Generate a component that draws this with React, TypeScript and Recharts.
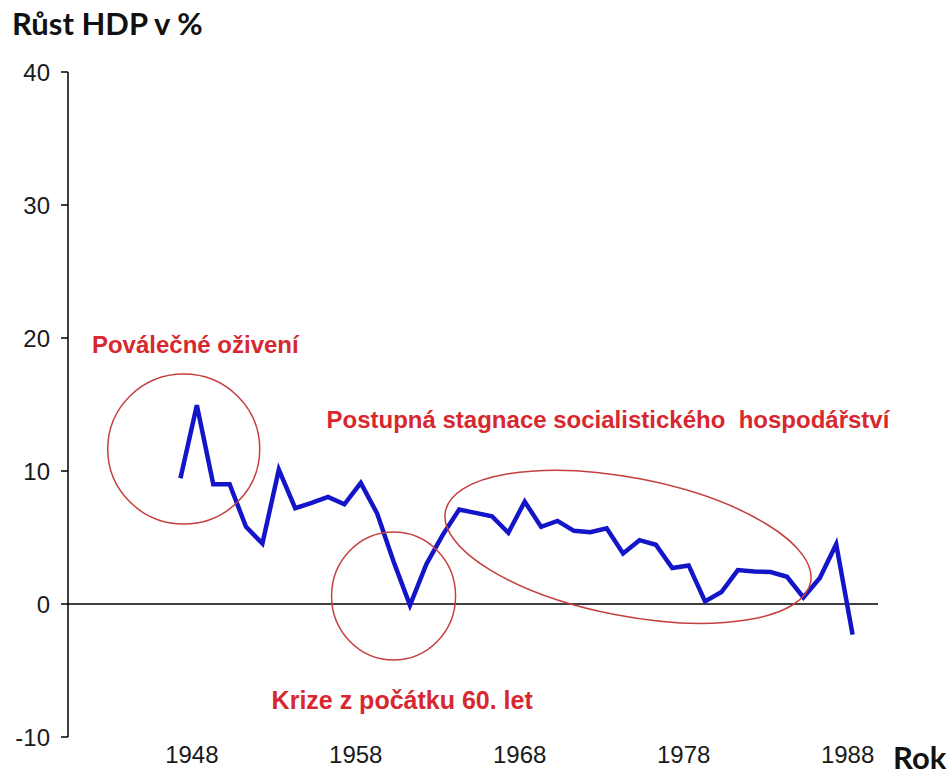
import React from 'react';
import { LineChart, Line, XAxis, YAxis, ReferenceLine, ReferenceDot } from 'recharts';

const years = [1947, 1948, 1949, 1950, 1951, 1952, 1953, 1954, 1955, 1956, 1957, 1958, 1959, 1960, 1961, 1962, 1963, 1964, 1965, 1966, 1967, 1968, 1969, 1970, 1971, 1972, 1973, 1974, 1975, 1976, 1977, 1978, 1979, 1980, 1981, 1982, 1983, 1984, 1985, 1986, 1987, 1988];
const growth = [9.45, 14.95, 9.0, 9.0, 5.8, 4.55, 10.1, 7.2, 7.6, 8.05, 7.5, 9.1, 6.8, 3.2, -0.1, 3.0, 5.2, 7.1, 6.85, 6.6, 5.35, 7.7, 5.8, 6.25, 5.5, 5.4, 5.7, 3.8, 4.8, 4.45, 2.7, 2.9, 0.2, 0.9, 2.55, 2.45, 2.4, 2.05, 0.5, 1.95, 4.5, -2.3];
const xTicks = [1948, 1958, 1968, 1978, 1988];
const yTicks = [-10, 0, 10, 20, 30, 40];

const ellipses = [
  { year: 1947.2, value: 11.65, rx: 76, ry: 75, angle: 0 },
  { year: 1960.0, value: 0.6, rx: 62, ry: 64, angle: 0 },
  { year: 1974.3, value: 4.3, rx: 186, ry: 69, angle: 11 },
];
const notes = [
  { year: 1941.6, value: 18.87, text: 'Poválečné oživení', size: 24 },
  { year: 1955.91, value: 13.23, text: 'Postupná stagnace socialistického  hospodářství', size: 24 },
  { year: 1952.56, value: -7.89, text: 'Krize z počátku 60. let', size: 25 },
];

const data = years.map((y, i) => ({ year: y, g: growth[i] }));
const FONT = '"Liberation Sans", Arial, sans-serif';
const RED = '#d7282f';

const XTick = (props: any) => {
  const { x, y, payload } = props;
  return (
    <text x={x - 5} y={y + 1} dy="0.71em" textAnchor="middle" fontSize={24} fill="#1a1a1a" fontFamily={FONT}>
      {payload.value}
    </text>
  );
};

export default function App() {
  return (
    <div style={{ position: 'absolute', left: 0, top: 0, width: 950, height: 776, background: '#fff' }}>
      <div style={{ position: 'absolute', left: 12, top: 4, fontFamily: 'Lato, sans-serif', fontWeight: 700, fontSize: 31, color: '#111', whiteSpace: 'nowrap' }}>
        Růst HDP v %
      </div>
      <div style={{ position: 'absolute', left: 893, top: 738, fontFamily: 'Lato, sans-serif', fontWeight: 700, fontSize: 31, color: '#111' }}>
        Rok
      </div>
      <LineChart width={950} height={776} data={data} margin={{ top: 72, right: 72, bottom: 9, left: 8 }}>
        <XAxis
          dataKey="year"
          type="number"
          domain={[1940.14, 1989.55]}
          allowDataOverflow
          ticks={xTicks}
          interval={0}
          axisLine={false}
          tickLine={false}
          height={30}
          tick={<XTick />}
        />
        <YAxis
          type="number"
          domain={[-10, 40]}
          ticks={yTicks}
          interval={0}
          width={60}
          axisLine={{ stroke: '#000', strokeWidth: 1.5 }}
          tickLine={{ stroke: '#000', strokeWidth: 1.5 }}
          tickSize={7}
          tickMargin={11}
          tick={{ fontSize: 24, fill: '#1a1a1a', fontFamily: FONT }}
        />
        <ReferenceLine y={0} stroke="#000" strokeWidth={1.5} ifOverflow="visible" />
        {ellipses.map((e, i) => (
          <ReferenceDot
            key={'e' + i}
            x={e.year}
            y={e.value}
            ifOverflow="visible"
            shape={(p: any) => (
              <ellipse
                cx={p.cx}
                cy={p.cy}
                rx={e.rx}
                ry={e.ry}
                fill="none"
                stroke="#c4403f"
                strokeWidth={1.5}
                transform={`rotate(${e.angle} ${p.cx} ${p.cy})`}
              />
            )}
          />
        ))}
        <Line type="linear" dataKey="g" stroke="#1414c8" strokeWidth={4.5} dot={false} isAnimationActive={false} strokeLinejoin="miter" />
        {notes.map((n, i) => (
          <ReferenceDot
            key={'n' + i}
            x={n.year}
            y={n.value}
            ifOverflow="visible"
            shape={(p: any) => (
              <text x={p.cx} y={p.cy} fontSize={n.size} fontWeight={700} fill={RED} fontFamily={FONT} style={{ whiteSpace: 'pre' }} xmlSpace="preserve">
                {n.text}
              </text>
            )}
          />
        ))}
      </LineChart>
    </div>
  );
}
